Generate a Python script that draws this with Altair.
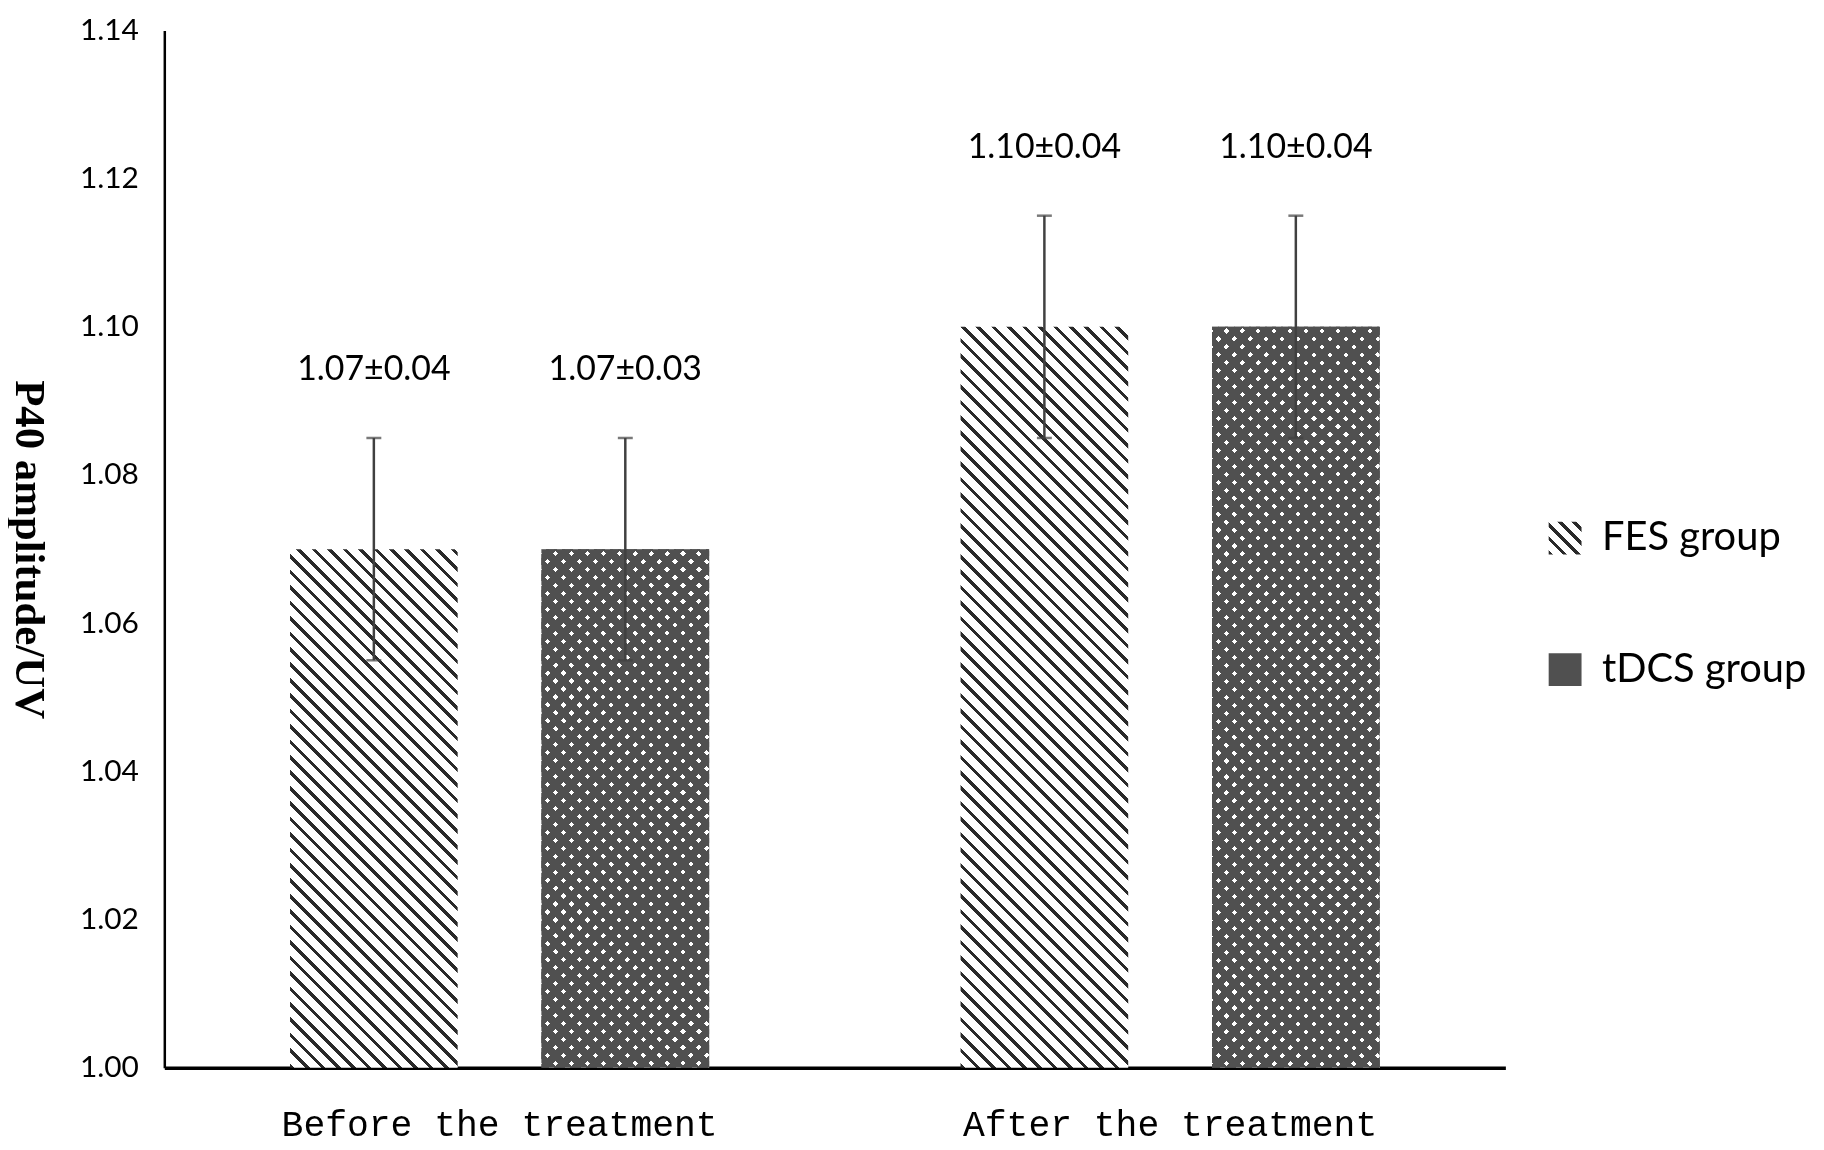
import altair as alt
import pandas as pd

# ---------------- data ----------------
periods = ["Before the treatment", "After the treatment"]
groups = ["FES group", "tDCS group"]
fes_mean = [1.07, 1.10]
tdcs_mean = [1.07, 1.10]
fes_err = [0.015, 0.015]
tdcs_err = [0.015, 0.015]
fes_text = ["1.07±0.04", "1.10±0.04"]
tdcs_text = ["1.07±0.03", "1.10±0.04"]
y_ticks = [1.00, 1.02, 1.04, 1.06, 1.08, 1.10, 1.12, 1.14]
y_domain = [1.00, 1.14]

rows = []
for i, p in enumerate(periods):
    rows.append({"period": p, "group": groups[0], "mean": fes_mean[i],
                 "err": fes_err[i], "text": fes_text[i]})
    rows.append({"period": p, "group": groups[1], "mean": tdcs_mean[i],
                 "err": tdcs_err[i], "text": tdcs_text[i]})
df = pd.DataFrame(rows)
df["lo"] = df["mean"] - df["err"]
df["hi"] = df["mean"] + df["err"]

# ---------------- layout / style ----------------
W, H = 1347, 1042
PAD = {"left": 157, "top": 20, "right": 312, "bottom": 80}
PI, PO = 1 / 3, 0.5
sub_step = (W / 2) / (2 - PI + 2 * PO)
BW = sub_step * (1 - PI)          # bar width in px (for pattern spacing)
DARK = "#505050"
ERR = "#404040"
HATCH = "#2a2a2a"


def bar_h(v):
    return (v - y_domain[0]) / (y_domain[1] - y_domain[0]) * H


def stripes(w, h, spacing, frac, c_on, c_off, direction):
    """Linear gradient in bounding-box units giving 45deg stripes."""
    r = h / w
    s = (1 + r) / (1 + r * r)
    if direction == "back":      # lines like "\"
        x1, y1, x2, y2 = 0, 1, s, 1 - s * r
    else:                        # lines like "/"
        x1, y1, x2, y2 = 0, 0, s, s * r
    n = (w + h) / spacing
    stops = []
    k = 0
    while k / n < 1:
        a = k / n
        b = min((k + frac) / n, 1)
        c = min((k + 1) / n, 1)
        stops.append({"offset": round(a, 5), "color": c_on})
        stops.append({"offset": round(b, 5), "color": c_on})
        if b < 1:
            stops.append({"offset": round(b, 5), "color": c_off})
            stops.append({"offset": round(c, 5), "color": c_off})
        k += 1
    return {"gradient": "linear", "x1": x1, "y1": y1, "x2": x2, "y2": y2,
            "stops": stops}


x_enc = alt.X("period:N", sort=periods,
              scale=alt.Scale(paddingInner=0, paddingOuter=0),
              axis=alt.Axis(title=None, ticks=False, tickSize=0, domainColor="black",
                            domainWidth=3.5, labelFont="Liberation Mono",
                            labelFontSize=36.5, labelColor="black", labelPadding=57,
                            labelBaseline="middle", labelAngle=0, labelLimit=1000))
xo_enc = alt.XOffset("group:N", sort=groups,
                     scale=alt.Scale(paddingInner=PI, paddingOuter=PO))
y_axis = alt.Axis(values=y_ticks, format=".2f", grid=False, ticks=False, tickSize=0,
                  domainColor="black", domainWidth=2.5, labelFont="Lato",
                  labelFontSize=30, labelColor="black", labelPadding=26,
                  title="P40 amplitude/UV", titleFont="Liberation Serif",
                  titleFontSize=43, titleFontWeight="bold", titleColor="black",
                  titleAngle=90, titleX=-136, titleY=H / 2, titleAlign="center",
                  titleBaseline="middle")
y_scale = alt.Scale(domain=y_domain, nice=False, zero=False)


def Y(field):
    return alt.Y(field, scale=y_scale, axis=y_axis)


base = alt.Chart(df)

legend_style = dict(title=None, orient="none", symbolType="square", symbolSize=1089,
                    symbolStrokeWidth=0, symbolOpacity=1, labelFont="Lato",
                    labelFontSize=40, labelColor="black", labelOffset=17,
                    padding=0, labelLimit=600)
legend_grad = stripes(33, 33, 14, 0.33, HATCH, "#ffffff", "back")

is_fes = f"datum.group === '{groups[0]}'"
is_tdcs = f"datum.group === '{groups[1]}'"

layers = [
    # tDCS base (carries the tDCS legend entry)
    base.transform_filter(is_tdcs).mark_bar(strokeWidth=0).encode(
        x=x_enc, xOffset=xo_enc, y=Y("mean:Q"), y2=alt.datum(y_domain[0]),
        fill=alt.Fill("group:N", scale=alt.Scale(domain=[groups[1]], range=[DARK]),
                      legend=alt.Legend(legendX=1387, legendY=622, **legend_style))),
    # invisible points that carry the FES legend entry
    base.transform_filter(is_fes).mark_point(filled=True, fill=legend_grad, opacity=0,
                                             size=10).encode(
        x=x_enc, xOffset=xo_enc, y=Y("mean:Q"),
        shape=alt.Shape("group:N", scale=alt.Scale(domain=[groups[0]], range=["square"]),
                        legend=alt.Legend(legendX=1387, legendY=490, **legend_style))),
]

for i, p in enumerate(periods):
    # FES: diagonal hatch
    hf = bar_h(fes_mean[i])
    layers.append(
        base.transform_filter(f"datum.period === '{p}' && {is_fes}")
        .mark_bar(fill=stripes(BW, hf, 15.5, 0.3, HATCH, "#ffffff", "back"))
        .encode(x=x_enc, xOffset=xo_enc, y=Y("mean:Q"), y2=alt.datum(y_domain[0])))
    # tDCS: dark with white dots (two crossed stripe layers, darken blend)
    ht = bar_h(tdcs_mean[i])
    flt = f"datum.period === '{p}' && {is_tdcs}"
    layers.append(
        base.transform_filter(flt)
        .mark_bar(fill=stripes(BW, ht, 16, 0.33, "#ffffff", DARK, "fwd"))
        .encode(x=x_enc, xOffset=xo_enc, y=Y("mean:Q"), y2=alt.datum(y_domain[0])))
    layers.append(
        base.transform_filter(flt)
        .mark_bar(fill=stripes(BW, ht, 16, 0.33, "#ffffff", DARK, "back"), blend="darken")
        .encode(x=x_enc, xOffset=xo_enc, y=Y("mean:Q"), y2=alt.datum(y_domain[0])))

layers += [
    base.mark_rule(color=ERR, strokeWidth=2.5).encode(
        x=x_enc, xOffset=xo_enc, y=Y("lo:Q"), y2="hi:Q"),
    base.mark_tick(color=ERR, thickness=2.5, size=15).encode(
        x=x_enc, xOffset=xo_enc, y=Y("lo:Q")),
    base.mark_tick(color=ERR, thickness=2.5, size=15).encode(
        x=x_enc, xOffset=xo_enc, y=Y("hi:Q")),
    base.mark_text(font="Lato", fontSize=34, dy=-68, color="black",
                   baseline="middle", align="center").encode(
        x=x_enc, xOffset=xo_enc, y=Y("hi:Q"), text="text:N"),
]

chart = alt.layer(*layers).properties(
    width=W, height=H, padding=PAD, autosize="none", background="white"
).configure_view(stroke=None)

chart.save("out.html", embed_options={"renderer": "svg", "actions": False})
